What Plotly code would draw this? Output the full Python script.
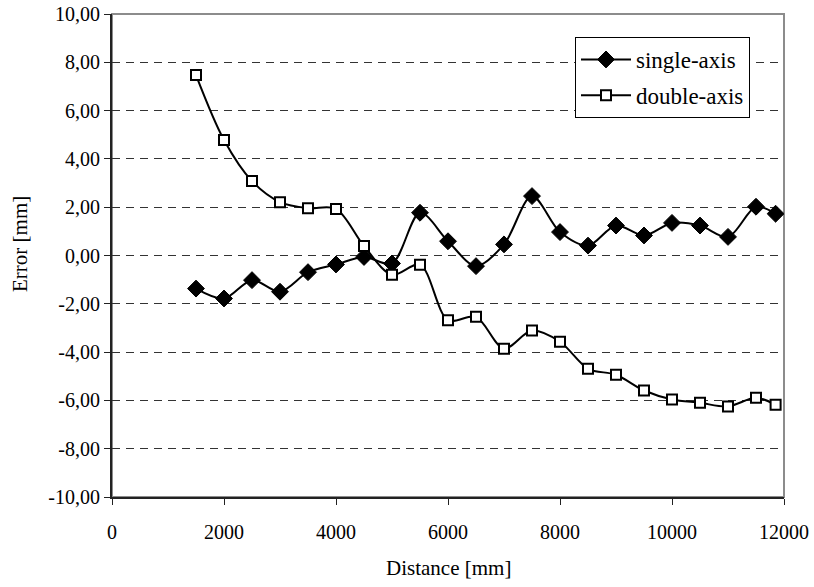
import plotly.graph_objects as go

distance = [1500, 2000, 2500, 3000, 3500, 4000, 4500, 5000, 5500, 6000, 6500,
            7000, 7500, 8000, 8500, 9000, 9500, 10000, 10500, 11000, 11500, 11850]
single_axis = [-1.37, -1.78, -1.02, -1.50, -0.69, -0.37, -0.06, -0.33, 1.77, 0.59, -0.44,
               0.46, 2.46, 0.97, 0.41, 1.24, 0.83, 1.35, 1.24, 0.77, 2.02, 1.73]
double_axis = [7.47, 4.78, 3.08, 2.21, 1.96, 1.93, 0.39, -0.80, -0.38, -2.68, -2.54,
               -3.86, -3.11, -3.57, -4.69, -4.94, -5.59, -5.96, -6.10, -6.25, -5.89, -6.18]

y_ticks = [-10, -8, -6, -4, -2, 0, 2, 4, 6, 8, 10]
y_tick_labels = ["-10,00", "-8,00", "-6,00", "-4,00", "-2,00", "0,00",
                 "2,00", "4,00", "6,00", "8,00", "10,00"]
x_ticks = [0, 2000, 4000, 6000, 8000, 10000, 12000]
x_tick_labels = ["0", "2000", "4000", "6000", "8000", "10000", "12000"]

FONT = "Liberation Serif, Times New Roman, serif"

fig = go.Figure()
fig.add_trace(go.Scatter(
    x=distance, y=single_axis, name="single-axis", mode="lines+markers",
    line=dict(color="black", width=2, shape="spline", smoothing=0.9),
    marker=dict(symbol="diamond", size=13, color="black", line=dict(color="black", width=1)),
    legendgroup="a",
))
fig.add_trace(go.Scatter(
    x=distance, y=double_axis, name="double-axis", mode="lines+markers",
    line=dict(color="black", width=2, shape="spline", smoothing=0.9),
    marker=dict(symbol="square", size=10, color="white", line=dict(color="black", width=2)),
    legendgroup="b",
))

fig.update_layout(
    width=814, height=587,
    margin=dict(l=112, r=30, t=14, b=90, autoexpand=False),
    paper_bgcolor="white", plot_bgcolor="white",
    font=dict(family=FONT, size=20, color="black"),
    showlegend=True,
    legend=dict(
        x=(575 - 112) / 672, y=(497 - 37) / 483, xanchor="left", yanchor="top",
        bordercolor="black", borderwidth=1, bgcolor="white",
        font=dict(family=FONT, size=23, color="black"),
        tracegroupgap=3, traceorder="grouped", itemwidth=50,
    ),
    shapes=[dict(type="rect", xref="paper", yref="paper", x0=0, x1=1, y0=0, y1=1,
                 line=dict(color="#8c8c8c", width=2), layer="below")],
    annotations=[
        dict(text="Distance [mm]", xref="paper", yref="paper", x=0.5, y=-(568 - 497) / 483,
             xanchor="center", yanchor="middle", showarrow=False,
             font=dict(family=FONT, size=21, color="black")),
        dict(text="Error [mm]", xref="paper", yref="paper", x=-(112 - 20) / 672, y=(497 - 244) / 483,
             xanchor="center", yanchor="middle", showarrow=False, textangle=-90,
             font=dict(family=FONT, size=21, color="black")),
    ],
)

fig.update_xaxes(
    range=[0, 12000], tickvals=x_ticks, ticktext=x_tick_labels,
    showgrid=False, zeroline=False, automargin=False,
    showline=True, linecolor="#222", linewidth=2,
    ticks="outside", ticklen=6, tickcolor="#222", tickwidth=1,
    ticklabelstandoff=10,
)
fig.update_yaxes(
    range=[-10, 10], tickvals=y_ticks, ticktext=y_tick_labels,
    showgrid=True, gridcolor="#333", gridwidth=1, griddash="8px,6px",
    zeroline=False, automargin=False,
    showline=True, linecolor="#222", linewidth=2,
    ticks="outside", ticklen=6, tickcolor="#222", tickwidth=1,
)

fig.write_html(
    "out.html",
    config={"displayModeBar": False},
    post_script="document.body.style.margin='0';document.body.style.overflow='hidden';",
)
